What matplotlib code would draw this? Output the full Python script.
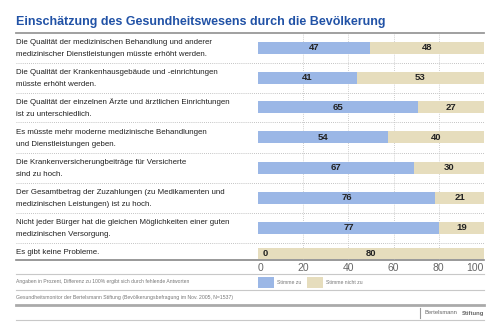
import numpy as np
import matplotlib
matplotlib.use('Agg')
import matplotlib.pyplot as plt

# data
statements = [
    "Die Qualität der medizinischen Behandlung und anderer\nmedizinischer Dienstleistungen müsste erhöht werden.",
    "Die Qualität der Krankenhausgebäude und -einrichtungen\nmüsste erhöht werden.",
    "Die Qualität der einzelnen Ärzte und ärztlichen Einrichtungen\nist zu unterschiedlich.",
    "Es müsste mehr moderne medizinische Behandlungen\nund Dienstleistungen geben.",
    "Die Krankenversicherungbeiträge für Versicherte\nsind zu hoch.",
    "Der Gesamtbetrag der Zuzahlungen (zu Medikamenten und\nmedizinischen Leistungen) ist zu hoch.",
    "Nicht jeder Bürger hat die gleichen Möglichkeiten einer guten\nmedizinischen Versorgung.",
    "Es gibt keine Probleme.",
]
agree = [47, 41, 65, 54, 67, 76, 77, 0]
disagree = [48, 53, 27, 40, 30, 21, 19, 80]
ticks = [0, 20, 40, 60, 80, 100]

title = "Einschätzung des Gesundheitswesens durch die Bevölkerung"
note1 = "Angaben in Prozent, Differenz zu 100% ergibt sich durch fehlende Antworten"
note2 = "Gesundheitsmonitor der Bertelsmann Stiftung (Bevölkerungsbefragung im Nov. 2005, N=1537)"

BLUE = '#9bb7e6'
BEIGE = '#e6ddbd'
TITLE_BLUE = '#2152a6'
TXT = '#222222'
GREY = '#777777'

plt.rcParams['font.family'] = ['Liberation Sans', 'DejaVu Sans']

fig = plt.figure(figsize=(5, 3.33), dpi=100)

# background axes in pixel units
bg = fig.add_axes([0, 0, 1, 1])
bg.set_xlim(0, 500)
bg.set_ylim(333, 0)
bg.axis('off')

L, R = 16, 484
bg.text(L, 22, title, fontsize=9, fontweight='bold', color=TITLE_BLUE,
        va='center', ha='left')
bg.plot([L, R], [33, 33], color='#999999', lw=1.3)

# row layout (pixels)
row_h = np.array([30, 29.5, 29.5, 30.5, 30.5, 30, 30, 17])
row_top = 33 + np.concatenate([[0], np.cumsum(row_h)[:-1]])
row_bot = row_top + row_h

for i, s in enumerate(statements):
    lines = s.split('\n')
    for j, ln in enumerate(lines):
        bg.text(L, row_top[i] + 10 + 12 * j, ln, fontsize=5.7, color=TXT,
                va='center', ha='left')
    if i < len(statements) - 1:
        bg.plot([L, R], [row_bot[i], row_bot[i]], color='#b0b0b0', lw=0.6,
                ls=(0, (1, 1.5)))

bottom = row_bot[-1]
bg.plot([L, R], [bottom, bottom], color='#888888', lw=1.2)
bg.plot([L, R], [274, 274], color='#c8c8c8', lw=0.8)
bg.plot([L, R], [289.5, 289.5], color='#c8c8c8', lw=0.8)
bg.plot([L, R], [305, 305], color='#aaaaaa', lw=2)
bg.plot([L, R], [320, 320], color='#c8c8c8', lw=0.8)

bg.text(L, 282, note1, fontsize=3.6, color=GREY, va='center')
bg.text(L, 297, note2, fontsize=3.7, color=GREY, va='center')

# legend
bg.add_patch(plt.Rectangle((258, 277), 16, 11, color=BLUE, lw=0))
bg.text(277, 282.5, "Stimme zu", fontsize=3.7, color=GREY, va='center')
bg.add_patch(plt.Rectangle((307, 277), 16, 11, color=BEIGE, lw=0))
bg.text(326, 282.5, "Stimme nicht zu", fontsize=3.7, color=GREY, va='center')

# logo
bg.plot([420, 420], [308, 318], color='#999999', lw=0.8)
bg.text(457, 313, "Bertelsmann", fontsize=4.2, color='#666666', ha='right', va='center')
bg.text(484, 313, "Stiftung", fontsize=4.2, color='#666666', ha='right', va='center',
        fontweight='bold')

# bar axes
ax = fig.add_axes([258 / 500, 1 - bottom / 333, 226 / 500, (bottom - 33) / 333])
ax.patch.set_alpha(0)
ax.set_xlim(0, 100)
ax.set_ylim(bottom, 33)

agree_a = np.array(agree, dtype=float)
dis_a = np.array(disagree, dtype=float)
tot = agree_a + dis_a
a_share = agree_a / tot * 100
d_share = dis_a / tot * 100

centers = row_top + row_h / 2
centers[-1] += 2
heights = np.full(len(agree), 12.0)
heights[-1] = 11

for x in ticks[1:-1]:
    ax.axvline(x, color='#c0c0c0', lw=0.6, ls=(0, (1, 1.5)), zorder=0)

ax.barh(centers, a_share, height=heights, color=BLUE, zorder=2)
ax.barh(centers, d_share, left=a_share, height=heights, color=BEIGE, zorder=2)

for i in range(len(agree)):
    if a_share[i] > 0:
        ax.text(a_share[i] / 2, centers[i], str(agree[i]), ha='center', va='center',
                fontsize=6.8, fontweight='bold', color=TXT, zorder=3)
    else:
        ax.annotate(str(agree[i]), (0, centers[i]), xytext=(3, 0),
                    textcoords='offset points', ha='left', va='center',
                    fontsize=6.8, fontweight='bold', color=TXT, zorder=3)
    ax.text(a_share[i] + d_share[i] / 2, centers[i], str(disagree[i]), ha='center',
            va='center', fontsize=6.8, fontweight='bold', color=TXT, zorder=3)

ax.set_xticks(ticks)
ax.set_xticklabels([str(t) for t in ticks], fontsize=7.5, color='#666666')
ax.tick_params(axis='x', length=0, pad=2)
labs = ax.get_xticklabels()
labs[0].set_ha('left')
labs[-1].set_ha('right')
ax.set_yticks([])
for sp in ax.spines.values():
    sp.set_visible(False)

fig.savefig('out.png', dpi=100)
